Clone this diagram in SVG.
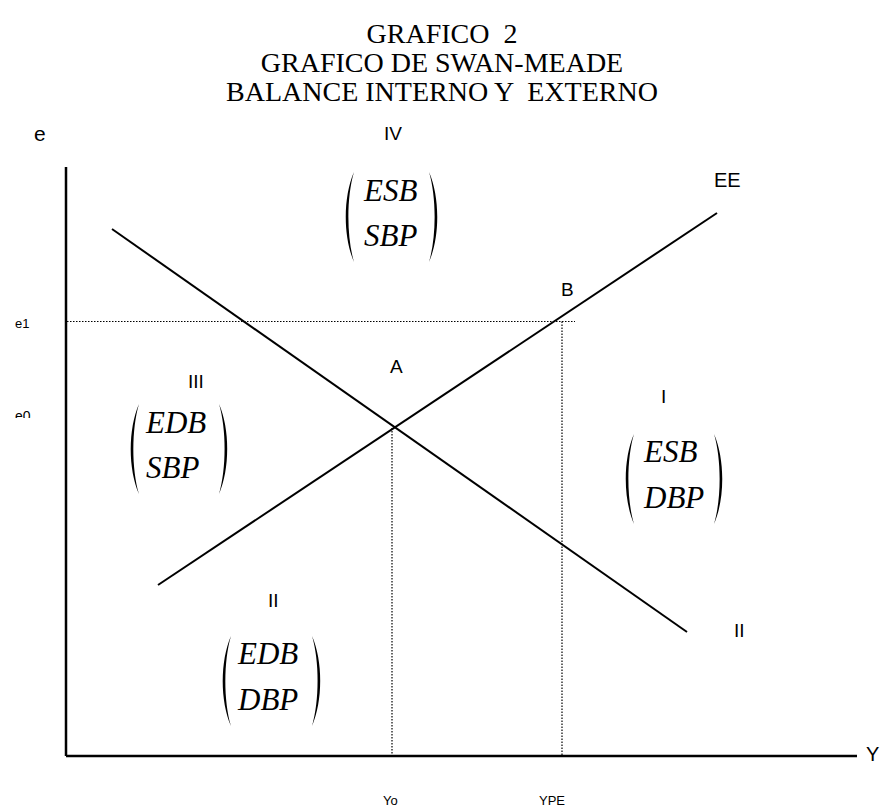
<svg xmlns="http://www.w3.org/2000/svg" width="883" height="810" viewBox="0 0 883 810">
<style>
.title{font-family:"Liberation Serif","Times New Roman",serif;font-size:28px;fill:#000;text-anchor:middle}
.lbl{font-family:"Liberation Sans",Arial,sans-serif;font-size:19px;fill:#000}
.sm{font-family:"Liberation Sans",Arial,sans-serif;font-size:13px;fill:#000}
.mx{font-family:"Liberation Serif","Times New Roman",serif;font-style:italic;font-size:31px;fill:#000}
.ln{stroke:#000;stroke-width:2;fill:none}
.ax{stroke:#000;stroke-width:2.5;fill:none}
.dot{stroke:#000;stroke-width:1.2;stroke-dasharray:1.5 1.5;fill:none}
</style>
<defs>
<path id="lp" d="M9,0 C-2,25 -2,65 9,90 C1.5,65 1.5,25 9,0 Z" fill="#000"/>
<path id="rp" d="M0,0 C11,25 11,65 0,90 C7.5,65 7.5,25 0,0 Z" fill="#000"/>
<clipPath id="clipE0"><rect x="0" y="400" width="60" height="18"/></clipPath>
</defs>
<g id="title">
<text class="title" x="442" y="43" xml:space="preserve">GRAFICO  2</text>
<text class="title" x="442" y="72">GRAFICO DE SWAN-MEADE</text>
<text class="title" x="442" y="101" xml:space="preserve">BALANCE INTERNO Y  EXTERNO</text>
</g>
<g id="axes">
<line class="ax" x1="66" y1="167" x2="66" y2="756"/>
<line class="ax" x1="66" y1="756" x2="857" y2="756"/>
<text class="lbl" x="34" y="141" style="font-size:21px">e</text>
<text class="lbl" x="866" y="761" style="font-size:20px">Y</text>
<text class="sm" x="15" y="328">e1</text>
<text class="sm" x="15" y="421" style="font-size:14px" clip-path="url(#clipE0)">e0</text>
<text class="sm" x="383" y="805">Yo</text>
<text class="sm" x="539" y="805">YPE</text>
</g>
<g id="connectors">
<line class="ln" x1="112" y1="229" x2="687" y2="632"/>
<line class="ln" x1="158" y1="585" x2="717" y2="213"/>
<line class="dot" x1="67" y1="321.5" x2="575" y2="321.5"/>
<line class="dot" x1="562" y1="321.5" x2="562" y2="755"/>
<line class="dot" x1="392" y1="428" x2="392" y2="755"/>
</g>
<g id="curve-labels">
<text class="lbl" x="714" y="187" style="font-size:20px">EE</text>
<text class="lbl" x="734" y="637">II</text>
<text class="lbl" x="561" y="296">B</text>
<text class="lbl" x="390" y="373">A</text>
</g>
<g id="region-IV">
<text class="lbl" x="384" y="140">IV</text>
<use href="#lp" x="345" y="172"/>
<use href="#rp" x="429" y="172"/>
<text class="mx" x="364" y="201">ESB</text>
<text class="mx" x="364" y="246">SBP</text>
</g>
<g id="region-III">
<text class="lbl" x="188" y="388">III</text>
<use href="#lp" x="130" y="404"/>
<use href="#rp" x="219" y="404"/>
<text class="mx" x="146" y="433">EDB</text>
<text class="mx" x="146" y="478">SBP</text>
</g>
<g id="region-I">
<text class="lbl" x="661" y="403">I</text>
<use href="#lp" x="625" y="434"/>
<use href="#rp" x="714" y="434"/>
<text class="mx" x="644" y="462">ESB</text>
<text class="mx" x="644" y="508">DBP</text>
</g>
<g id="region-II">
<text class="lbl" x="268" y="607">II</text>
<use href="#lp" x="222" y="636"/>
<use href="#rp" x="312" y="636"/>
<text class="mx" x="238" y="664">EDB</text>
<text class="mx" x="238" y="710">DBP</text>
</g>
</svg>
